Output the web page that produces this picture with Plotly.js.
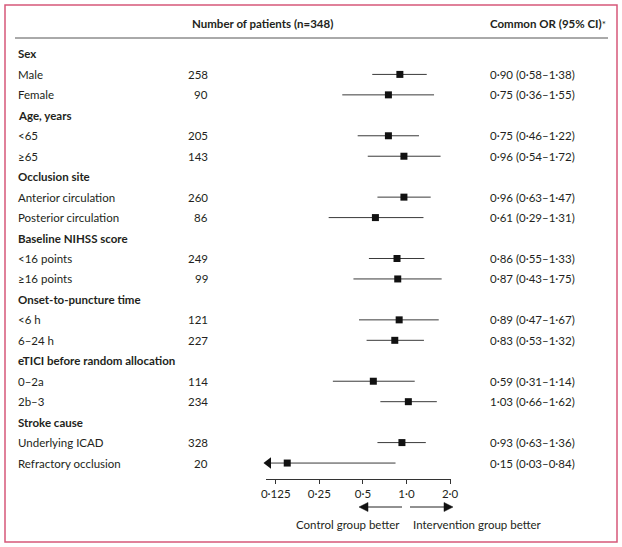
<!DOCTYPE html>
<html><head><meta charset="utf-8">
<script src="https://cdn.plot.ly/plotly-3.0.1.min.js"></script>
<style>html,body{margin:0;padding:0;background:#fff}#chart{width:622px;height:547px}</style>
</head><body><div id="chart"></div>
<script>
// ---- data ----
const rowLabels = ['Sex','Male','Female','Age, years','<65','≥65','Occlusion site','Anterior circulation','Posterior circulation','Baseline NIHSS score','<16 points','≥16 points','Onset-to-puncture time','<6 h','6–24 h','eTICI before random allocation','0–2a','2b–3','Stroke cause','Underlying ICAD','Refractory occlusion'];
const patients = [null,258,90,null,205,143,null,260,86,null,249,99,null,121,227,null,114,234,null,328,20];
const oddsRatio = [null,0.90,0.75,null,0.75,0.96,null,0.96,0.61,null,0.86,0.87,null,0.89,0.83,null,0.59,1.03,null,0.93,0.15];
const ciLow =     [null,0.58,0.36,null,0.46,0.54,null,0.63,0.29,null,0.55,0.43,null,0.47,0.53,null,0.31,0.66,null,0.63,0.03];
const ciHigh =    [null,1.38,1.55,null,1.22,1.72,null,1.47,1.31,null,1.33,1.75,null,1.67,1.32,null,1.14,1.62,null,1.36,0.84];
const tickValues = [0.125,0.25,0.5,1.0,2.0];
const tickLabels = ['0·125','0·25','0·5','1·0','2·0'];
const headerN = 'Number of patients (n=348)';
const headerOR = 'Common OR (95% CI)';
const leftNote = 'Control group better';
const rightNote = 'Intervention group better';

// ---- layout helpers ----
const W = 622, H = 547;
const FONT = 'Lato, "Open Sans", sans-serif';
const TXT = '#231f20';
const xMin = 0.107, xMax = 2.03;
const px = v => v / W;
const py = v => 1 - v / H;
const dec = v => v.toFixed(2).replace('.', '·');

const rows = rowLabels.map((_, i) => i);
const dataRows = rows.filter(i => patients[i] !== null);

// CI lines
const ciX = [], ciY = [];
dataRows.forEach(i => { ciX.push(ciLow[i], ciHigh[i], null); ciY.push(i, i, null); });

const traces = [
  {type:'scatter', mode:'lines', x:ciX, y:ciY, line:{color:'#3a3a3a', width:1}, hoverinfo:'skip'},
  {type:'scatter', mode:'markers', x:dataRows.map(i=>oddsRatio[i]), y:dataRows,
   marker:{symbol:'square', size:7, color:'#111'}, hoverinfo:'skip'},
  // arrows for CIs truncated at axis minimum
  {type:'scatter', mode:'markers', cliponaxis:false,
   x:dataRows.filter(i=>ciLow[i] < xMin).map(()=>xMin*1.04),
   y:dataRows.filter(i=>ciLow[i] < xMin),
   marker:{symbol:'triangle-left', size:10, color:'#111'}, hoverinfo:'skip'}
];

const annotations = [];
rows.forEach(i => {
  const isHead = patients[i] === null;
  annotations.push({xref:'paper', yref:'y', x:px(16), y:i, xanchor:'left', yanchor:'middle', showarrow:false,
    text: isHead ? '<b>'+rowLabels[i]+'</b>' : rowLabels[i], font:{family:FONT, size:11.5, color:TXT}});
  if (!isHead) {
    annotations.push({xref:'paper', yref:'y', x:px(210), y:i, xanchor:'right', yanchor:'middle', showarrow:false,
      text: String(patients[i]), font:{family:FONT, size:11.5, color:TXT}});
    annotations.push({xref:'paper', yref:'y', x:px(488), y:i, xanchor:'left', yanchor:'middle', showarrow:false,
      text: dec(oddsRatio[i])+' ('+dec(ciLow[i])+'–'+dec(ciHigh[i])+')', font:{family:FONT, size:11.5, color:TXT}});
  }
});
annotations.push({xref:'paper', yref:'paper', x:px(190), y:py(23), xanchor:'left', yanchor:'middle', showarrow:false,
  text:'<b>'+headerN+'</b>', font:{family:FONT, size:11.5, color:TXT}});
annotations.push({xref:'paper', yref:'paper', x:px(488), y:py(23), xanchor:'left', yanchor:'middle', showarrow:false,
  text:'<b>'+headerOR+'</b><span style="font-size:10px">*</span>', font:{family:FONT, size:11.5, color:TXT}});
annotations.push({xref:'paper', yref:'paper', x:px(402), y:py(524), xanchor:'right', yanchor:'middle', showarrow:false,
  text:leftNote, font:{family:FONT, size:11.5, color:TXT}});
annotations.push({xref:'paper', yref:'paper', x:px(411), y:py(524), xanchor:'left', yanchor:'middle', showarrow:false,
  text:rightNote, font:{family:FONT, size:11.5, color:TXT}});

const yTop = 38, yBot = 479;
const rowTop = -0.78, rowBot = 20.78;

// direction arrows (paper coordinates)
const ay = 507;
const tri = (tipX, baseX) => 'M '+px(tipX)+' '+py(ay)+' L '+px(baseX)+' '+py(ay-4.5)+' L '+px(baseX)+' '+py(ay+4.5)+' Z';

const layout = {
  width:W, height:H, margin:{l:0,r:0,t:0,b:0}, showlegend:false,
  paper_bgcolor:'#fff', plot_bgcolor:'rgba(0,0,0,0)',
  xaxis:{type:'log', domain:[px(266), px(451)], range:[Math.log10(xMin), Math.log10(xMax)],
    tickvals:tickValues, ticktext:tickLabels, ticks:'outside', ticklen:4, tickwidth:1, tickcolor:'#333',
    showline:true, linecolor:'#333', linewidth:1, showgrid:false, zeroline:false,
    tickfont:{family:FONT, size:11.5, color:TXT}, fixedrange:true},
  yaxis:{domain:[py(yBot), py(yTop)], range:[rowBot, rowTop], showticklabels:false, showgrid:false,
    zeroline:false, showline:false, ticks:'', fixedrange:true},
  annotations:annotations,
  shapes:[
    {type:'rect', xref:'paper', yref:'paper', x0:px(5), x1:px(617), y0:py(542), y1:py(5), line:{color:'#d6587a', width:1.5}},
    {type:'line', xref:'paper', yref:'paper', x0:px(15), x1:px(608), y0:py(yTop), y1:py(yTop), line:{color:'#555', width:1}},
    {type:'line', xref:'x', yref:'paper', x0:0, x1:0, y0:py(yBot), y1:py(yTop), line:{color:'#333', width:1}},
    {type:'line', xref:'paper', yref:'paper', x0:px(362), x1:px(402), y0:py(ay), y1:py(ay), line:{color:'#222', width:1}},
    {type:'path', xref:'paper', yref:'paper', path:tri(359, 368), fillcolor:'#111', line:{color:'#111', width:0.5}},
    {type:'line', xref:'paper', yref:'paper', x0:px(410), x1:px(450), y0:py(ay), y1:py(ay), line:{color:'#222', width:1}},
    {type:'path', xref:'paper', yref:'paper', path:tri(453, 444), fillcolor:'#111', line:{color:'#111', width:0.5}}
  ]
};
Plotly.newPlot('chart', traces, layout, {staticPlot:true, displayModeBar:false});
</script></body></html>
